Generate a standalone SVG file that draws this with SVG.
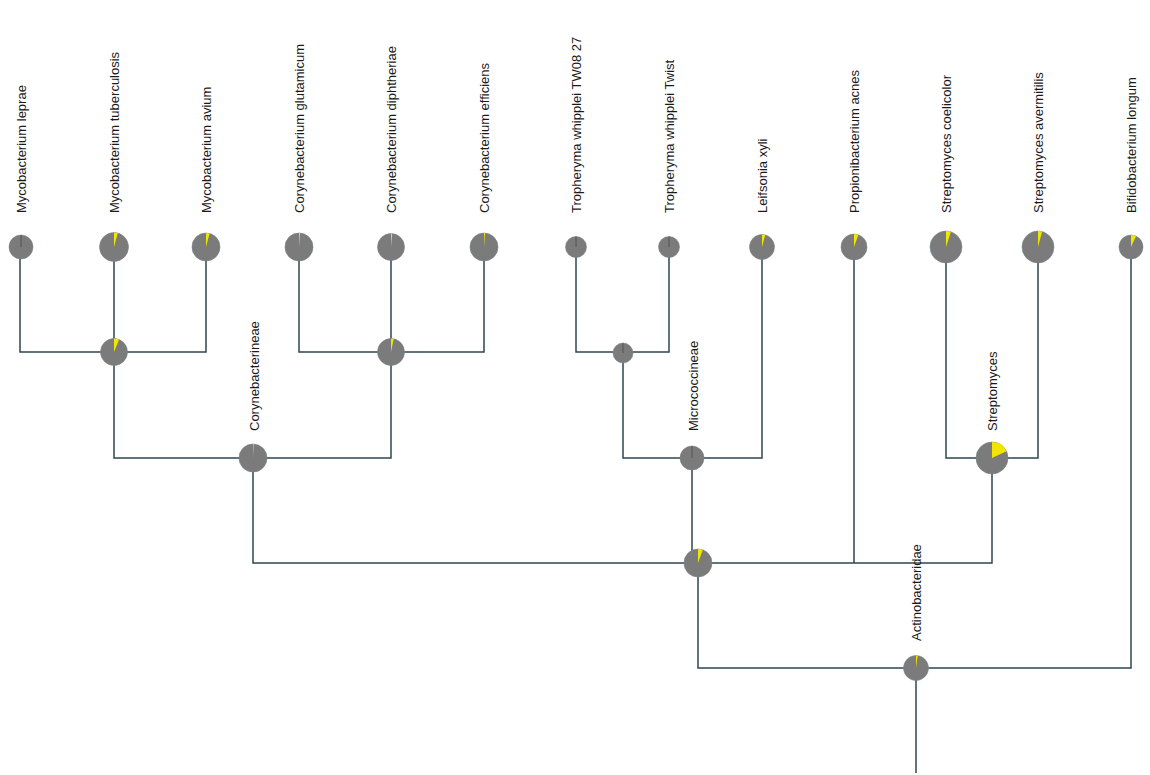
<svg xmlns="http://www.w3.org/2000/svg" width="1150" height="775" viewBox="0 0 1150 775">
<style>
.bg{fill:#ffffff}
.edge{fill:none;stroke:#2e4650;stroke-width:1.5}
.pie{fill:#7b7b7b;stroke:#75858a;stroke-width:0.6}
.w{fill:#f2e600}
.z{stroke:#4a4a4a;stroke-width:0.8}
.lbl{font-family:"Liberation Sans",Arial,sans-serif;font-size:13px;fill:#1a1a1a}
</style>
<rect class="bg" width="1150" height="775"/>
<g id="connectors">
<path class="edge" d="M20,247V352H206V247M114,247V352"/>
<path class="edge" d="M299,247V352H484V247M391,247V352"/>
<path class="edge" d="M576,247V352H669V247"/>
<path class="edge" d="M114,352V458H391V352"/>
<path class="edge" d="M623,352V458H762V247"/>
<path class="edge" d="M946,247V458H1038V247"/>
<path class="edge" d="M253,458V563H992V458M692,458V563M854,247V563"/>
<path class="edge" d="M698,563V668H1131V247M916,668V773"/>
</g>
<g id="leaf-m-leprae"><circle class="pie" cx="21" cy="247" r="12"/><line class="z" x1="21" y1="247" x2="21" y2="235"/><text class="lbl" transform="translate(26,213) rotate(-90)">Mycobacterium leprae</text></g>
<g id="leaf-m-tuberculosis"><circle class="pie" cx="114" cy="247" r="14.5"/><path class="w" d="M114,247V232.5A14.5,14.5 0 0 1 117.75,233Z"/><text class="lbl" transform="translate(119,213) rotate(-90)">Mycobacterium tuberculosis</text></g>
<g id="leaf-m-avium"><circle class="pie" cx="206" cy="247" r="14"/><path class="w" d="M206,247V233A14,14 0 0 1 209.6,233.5Z"/><text class="lbl" transform="translate(211,213) rotate(-90)">Mycobacterium avium</text></g>
<g id="leaf-c-glutamicum"><circle class="pie" cx="299" cy="247" r="14"/><path class="w" d="M299,247V233A14,14 0 0 1 300,233Z"/><text class="lbl" transform="translate(304,213) rotate(-90)">Corynebacterium glutamicum</text></g>
<g id="leaf-c-diphtheriae"><circle class="pie" cx="391" cy="247" r="13.5"/><path class="w" d="M391,247V233.5A13.5,13.5 0 0 1 392.2,233.6Z"/><text class="lbl" transform="translate(396,213) rotate(-90)">Corynebacterium diphtheriae</text></g>
<g id="leaf-c-efficiens"><circle class="pie" cx="484" cy="247" r="14"/><path class="w" d="M484,247V233A14,14 0 0 1 485,233Z"/><text class="lbl" transform="translate(489,213) rotate(-90)">Corynebacterium efficiens</text></g>
<g id="leaf-t-tw08"><circle class="pie" cx="576" cy="247" r="10.5"/><line class="z" x1="576" y1="247" x2="576" y2="236.5"/><text class="lbl" transform="translate(581,213) rotate(-90)">Tropheryma whipplei TW08 27</text></g>
<g id="leaf-t-twist"><circle class="pie" cx="669" cy="247" r="10.5"/><line class="z" x1="669" y1="247" x2="669" y2="236.5"/><text class="lbl" transform="translate(674,213) rotate(-90)">Tropheryma whipplei Twist</text></g>
<g id="leaf-leifsonia"><circle class="pie" cx="762" cy="247" r="12.5"/><path class="w" d="M762,247V234.5A12.5,12.5 0 0 1 765.2,234.9Z"/><text class="lbl" transform="translate(767,213) rotate(-90)">Leifsonia xyli</text></g>
<g id="leaf-propioni"><circle class="pie" cx="854" cy="247" r="13"/><path class="w" d="M854,247V234A13,13 0 0 1 858.4,234.8Z"/><text class="lbl" transform="translate(859,213) rotate(-90)">Propionibacterium acnes</text></g>
<g id="leaf-s-coelicolor"><circle class="pie" cx="946" cy="247" r="16"/><path class="w" d="M946,247V231A16,16 0 0 1 950.9,231.8Z"/><text class="lbl" transform="translate(951,213) rotate(-90)">Streptomyces coelicolor</text></g>
<g id="leaf-s-avermitilis"><circle class="pie" cx="1038" cy="247" r="16"/><path class="w" d="M1038,247V231A16,16 0 0 1 1042.1,231.5Z"/><text class="lbl" transform="translate(1043,213) rotate(-90)">Streptomyces avermitilis</text></g>
<g id="leaf-bifido"><circle class="pie" cx="1131" cy="247" r="12"/><path class="w" d="M1131,247V235A12,12 0 0 1 1136.1,236.1Z"/><text class="lbl" transform="translate(1136,213) rotate(-90)">Bifidobacterium longum</text></g>
<g id="node-mycobacterium"><circle class="pie" cx="114" cy="352" r="13.5"/><path class="w" d="M114,352V338.5A13.5,13.5 0 0 1 119.1,339.5Z"/></g>
<g id="node-corynebacterium"><circle class="pie" cx="391" cy="352" r="13.5"/><path class="w" d="M391,352V338.5A13.5,13.5 0 0 1 393.8,338.8Z"/></g>
<g id="node-tropheryma"><circle class="pie" cx="623" cy="353" r="10"/><line class="z" x1="623" y1="353" x2="623" y2="343"/></g>
<g id="node-corynebacterineae"><circle class="pie" cx="253" cy="458" r="14"/><path class="w" d="M253,458V444A14,14 0 0 1 253.7,444Z"/><text class="lbl" transform="translate(259,431) rotate(-90)">Corynebacterineae</text></g>
<g id="node-micrococcineae"><circle class="pie" cx="692" cy="458" r="12"/><line class="z" x1="692" y1="458" x2="692" y2="446"/><text class="lbl" transform="translate(698,431) rotate(-90)">Micrococcineae</text></g>
<g id="node-streptomyces"><circle class="pie" cx="992" cy="458" r="16"/><path class="w" d="M992,458V442A16,16 0 0 1 1006.5,451.2Z"/><text class="lbl" transform="translate(997,431) rotate(-90)">Streptomyces</text></g>
<g id="node-mid"><circle class="pie" cx="698" cy="563" r="14"/><path class="w" d="M698,563V549A14,14 0 0 1 702.8,549.8Z"/></g>
<g id="node-actinobacteridae"><circle class="pie" cx="916" cy="668" r="12.5"/><path class="w" d="M916,668V655.5A12.5,12.5 0 0 1 917.7,655.6Z"/><text class="lbl" transform="translate(921,641) rotate(-90)">Actinobacteridae</text></g>
</svg>
